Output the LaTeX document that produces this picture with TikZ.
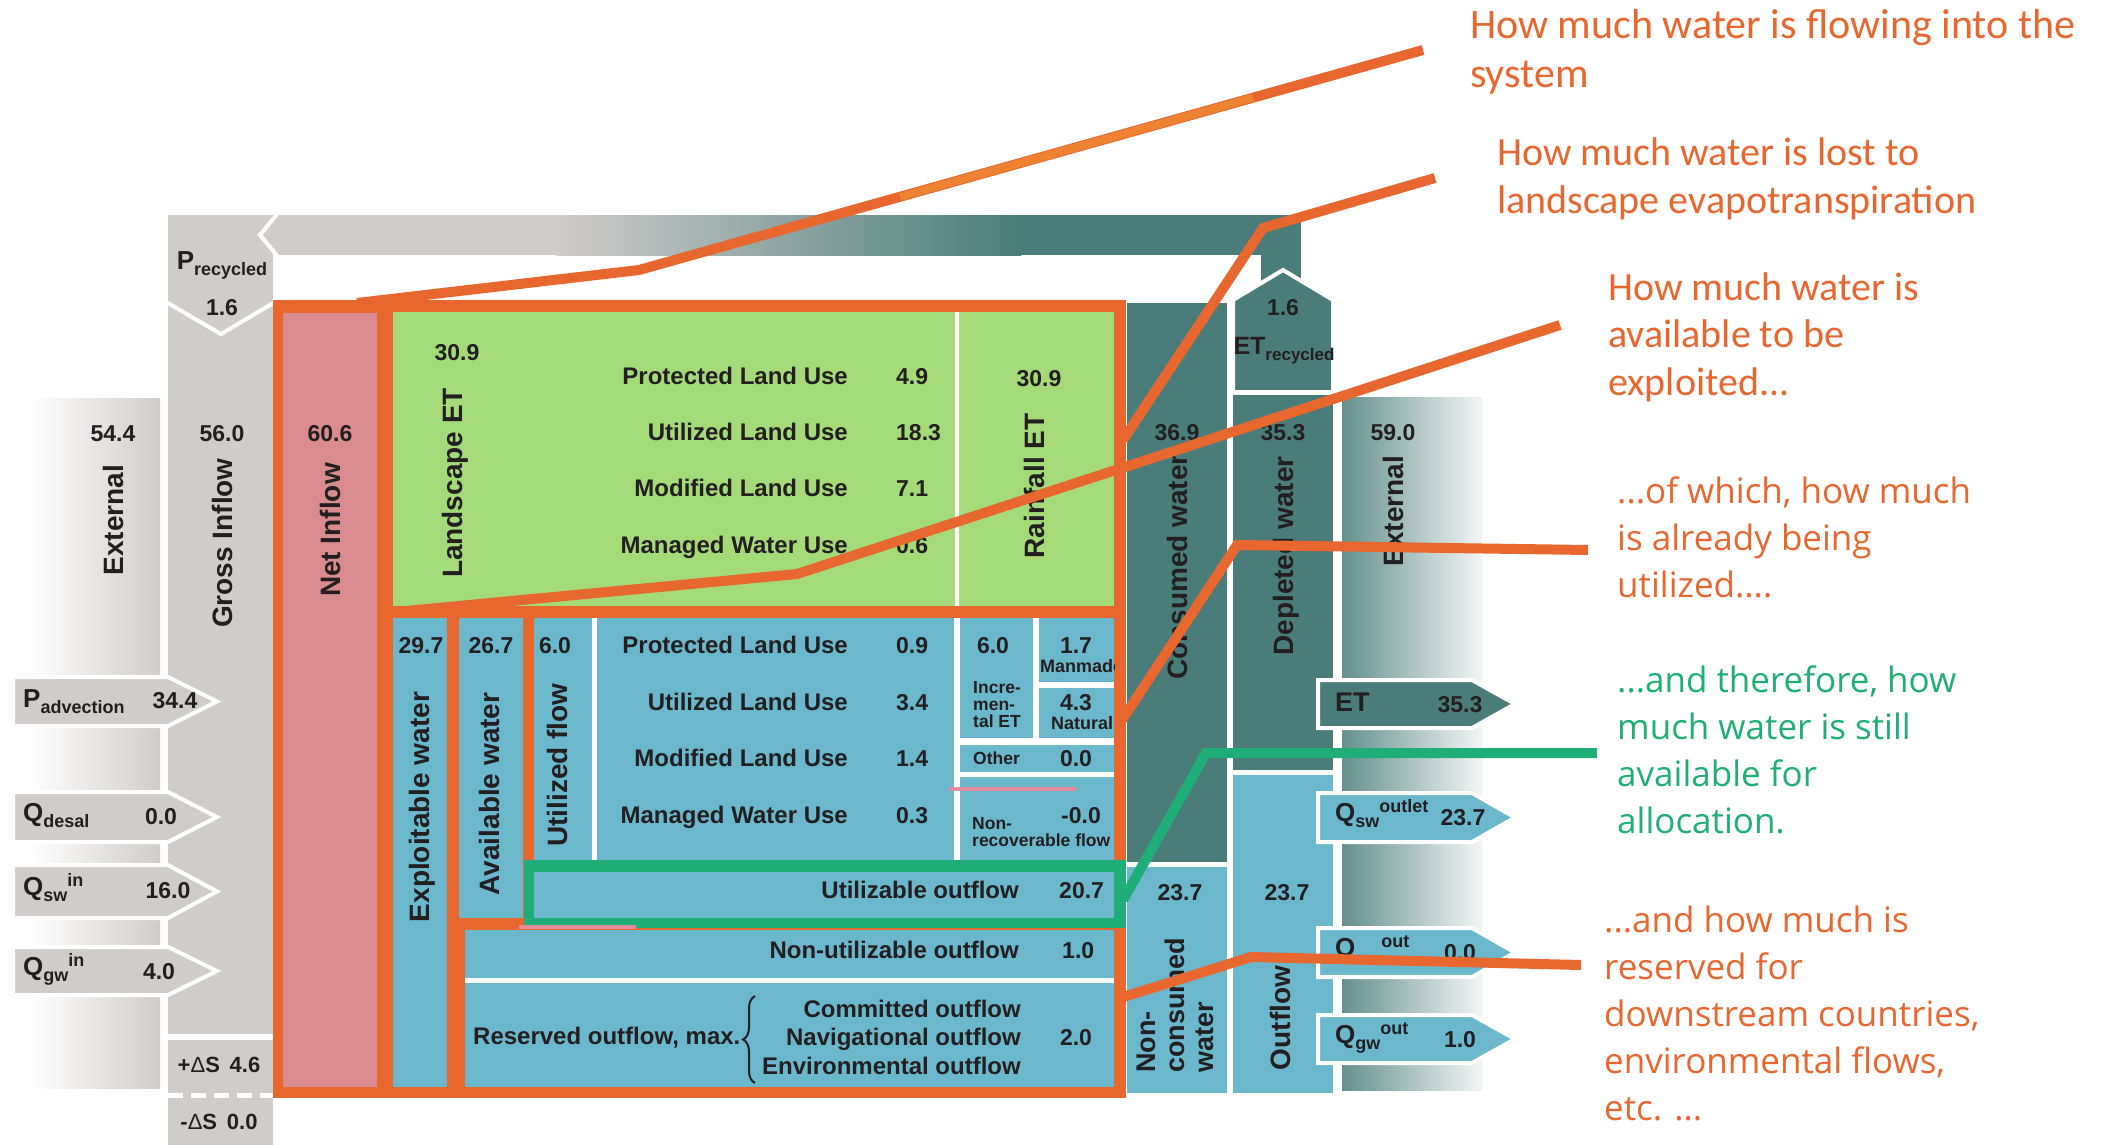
\documentclass[tikz,border=0pt]{standalone}
\usepackage{fontspec}
\setmainfont{Liberation Sans}
\newfontfamily\cfont{Carlito}
\newfontfamily\ofont{Open Sans}
\usetikzlibrary{decorations.pathreplacing}
\definecolor{gry}{HTML}{D0CCCB}
\definecolor{tl}{HTML}{4A7D79}
\definecolor{blu}{HTML}{6BB8CD}
\definecolor{grn}{HTML}{A4DB78}
\definecolor{pnk}{HTML}{D98B8E}
\definecolor{org}{HTML}{E8672F}
\definecolor{orgl}{HTML}{EC8232}
\definecolor{gline}{HTML}{20AE78}
\definecolor{ink}{HTML}{231F20}
\definecolor{pline}{HTML}{E38D9C}
\newcommand{\mydn}[2][18]{\raisebox{-6pt}{\fontsize{#1}{#1}\selectfont #2}}
\newcommand{\myup}[2][18]{\raisebox{9pt}{\fontsize{#1}{#1}\selectfont #2}}
\begin{document}
\begin{tikzpicture}[x=1pt,y=-1pt,
  lab/.style={font=\bfseries\fontsize{24}{26}\selectfont, text=ink, inner sep=0pt, text height=17pt, text depth=0pt},
  num/.style={font=\bfseries\fontsize{23}{25}\selectfont, text=ink, inner sep=0pt, text height=16.5pt, text depth=0pt},
  rlab/.style={font=\bfseries\fontsize{28}{30}\selectfont, text=ink, inner sep=0pt, rotate=90, text height=20pt, text depth=0pt},
  sml/.style={font=\bfseries\fontsize{17.5}{17}\selectfont, text=ink, inner sep=0pt, align=left},
  arr/.style={draw=white, line width=4pt, line join=miter},
  ann/.style={font=\cfont\fontsize{40}{47.5}\selectfont, text=org, align=left, inner sep=0pt, anchor=west},
  annb/.style={font=\ofont\fontsize{35}{47}\selectfont, text=org, align=left, inner sep=0pt, anchor=west},
  call/.style={draw=org, line width=10pt, line join=miter}
]
\useasboundingbox (0,0) rectangle (2101,1145);
\fill[white] (0,0) rectangle (2101,1145);

% ---------- left side ----------
\shade[left color=white, right color=gry] (30,398) rectangle (160,1088);
\fill[gry] (168,215) rectangle (273,1034);
\fill[gry] (168,1040) rectangle (273,1145);
\draw[white, line width=5pt, dash pattern=on 15pt off 8pt] (168,1095.5) -- (273,1095.5);

% top recycling bar
\fill[gry] (262,215) rectangle (557,255);
\shade[left color=gry, right color=tl] (556,215) rectangle (1021,255);
\fill[tl] (1020,215) rectangle (1301,255);
\fill[tl] (1261,254) rectangle (1301,290);
\draw[white, line width=4pt] (279,212) -- (260,235) -- (279,258);
\draw[white, line width=4pt] (166,302) -- (221,334) -- (275,302);

% ---------- main framed block ----------
\fill[org] (273,300) rectangle (1126,1098);
\fill[pnk] (283,313) rectangle (377,1087);
\fill[grn] (393,312) rectangle (1114,606);
\draw[white, line width=4pt] (957,312) -- (957,606);
\fill[blu] (393,618) rectangle (447,1087);
\fill[blu] (459,618) rectangle (523,918);
\fill[white] (534,618) rectangle (1114,860);
\fill[blu] (534,618) rectangle (592,860);
\fill[blu] (597,618) rectangle (954,860);
\fill[blu] (960,618) rectangle (1033,738);
\fill[blu] (1039,618) rectangle (1114,682);
\fill[blu] (1039,688) rectangle (1114,738);
\fill[blu] (960,745) rectangle (1114,772);
\fill[blu] (960,777) rectangle (1114,860);
\fill[gline] (524,860) rectangle (1126,928);
\fill[blu] (534,872) rectangle (1114,918);
\fill[blu] (465,930) rectangle (1114,978);
\fill[white] (465,978) rectangle (1114,983);
\fill[blu] (465,983) rectangle (1114,1087);
\draw[pline, line width=4pt] (949,789) -- (1076,789);
\draw[pline, line width=4pt] (519,927) -- (636,927);

% ---------- right side ----------
\fill[tl] (1127,303) rectangle (1227,862);
\fill[blu] (1127,867) rectangle (1227,1093);
\filldraw[fill=tl, draw=white, line width=4pt] (1233,392) -- (1233,300) -- (1283,270) -- (1333,300) -- (1333,392) -- cycle;
\fill[tl] (1233,395) rectangle (1333,770);
\fill[blu] (1233,775) rectangle (1333,1093);
\shade[left color=tl!85, right color=tl!7] (1342,397) rectangle (1482,1090);

% ---------- arrows ----------
\filldraw[fill=gry, arr] (13,677) -- (168,677) -- (217,701.5) -- (168,726) -- (13,726) -- cycle;
\filldraw[fill=gry, arr] (13,792) -- (168,792) -- (217,817) -- (168,842) -- (13,842) -- cycle;
\filldraw[fill=gry, arr] (13,865) -- (168,865) -- (217,891.5) -- (168,918) -- (13,918) -- cycle;
\filldraw[fill=gry, arr] (13,947) -- (168,947) -- (217,971) -- (168,995) -- (13,995) -- cycle;
\filldraw[fill=tl, arr] (1318,680) -- (1472,680) -- (1515,704) -- (1472,728) -- (1318,728) -- cycle;
\filldraw[fill=blu, arr] (1318,793) -- (1472,793) -- (1515,817.5) -- (1472,842) -- (1318,842) -- cycle;
\filldraw[fill=blu, arr] (1318,928) -- (1472,928) -- (1515,952.5) -- (1472,977) -- (1318,977) -- cycle;
\filldraw[fill=blu, arr] (1318,1015) -- (1472,1015) -- (1515,1039) -- (1472,1063) -- (1318,1063) -- cycle;

% ---------- left texts ----------
\node[num] (n544) at (113,433) {54.4};
\node[rlab] (extL) at (113,520) {External};
\node[lab] (precl) at (222,261) {\fontsize{26}{26}\selectfont P\mydn{recycled}};
\node[num] (prec16) at (222,307) {1.6};
\node[num] (n560) at (222,433) {56.0};
\node[rlab] (gross) at (222,543) {Gross Inflow};
\node[num] (n606) at (330,433) {60.6};
\node[rlab] (netin) at (330,530) {Net Inflow};
\node[lab, font=\bfseries\fontsize{22}{22}\selectfont] (dsp) at (219,1064) {+{\mdseries Δ}S\ \,4.6};
\node[lab, font=\bfseries\fontsize{22}{22}\selectfont] (dsm) at (219,1121) {-{\mdseries Δ}S\ \,0.0};
\node[lab, anchor=west] (padv) at (23,699) {\fontsize{26}{26}\selectfont P\mydn{advection}};
\node[num] (padvv) at (175,700) {34.4};
\node[lab, anchor=west] (qdes) at (23,813) {\fontsize{26}{26}\selectfont Q\mydn{desal}};
\node[num] (qdesv) at (161,816) {0.0};
\node[lab, anchor=west] (qswin) at (23,887) {\fontsize{26}{26}\selectfont Q\mydn{sw}\myup{in}};
\node[num] (qswinv) at (168,890) {16.0};
\node[lab, anchor=west] (qgwin) at (23,967) {\fontsize{26}{26}\selectfont Q\mydn{gw}\myup{in}};
\node[num] (qgwinv) at (159,971) {4.0};

% ---------- green block texts ----------
\node[num] (n309a) at (457,352) {30.9};
\node[rlab] (lset) at (452,483) {Landscape ET};
\node[lab, anchor=east] (gl1) at (848,376) {Protected Land Use};
\node[lab, anchor=east] (gl2) at (848,432) {Utilized Land Use};
\node[lab, anchor=east] (gl3) at (848,488) {Modified Land Use};
\node[lab, anchor=east] (gl4) at (848,545) {Managed Water Use};
\node[num, anchor=west] (gv1) at (896,376) {4.9};
\node[num, anchor=west] (gv2) at (896,432) {18.3};
\node[num, anchor=west] (gv3) at (896,488) {7.1};
\node[num, anchor=west] (gv4) at (896,545) {0.6};
\node[num] (n309b) at (1039,378) {30.9};
\node[rlab] (rainet) at (1034,486) {Rainfall ET};

% ---------- blue block texts ----------
\node[num] (n297) at (421,645) {29.7};
\node[rlab] (explw) at (419,807) {Exploitable water};
\node[num] (n267) at (491,645) {26.7};
\node[rlab] (availw) at (489,794) {Available water};
\node[num] (n60a) at (555,645) {6.0};
\node[rlab] (utilf) at (557,765) {Utilized flow};
\node[lab, anchor=east] (bl1) at (848,645) {Protected Land Use};
\node[lab, anchor=east] (bl2) at (848,702) {Utilized Land Use};
\node[lab, anchor=east] (bl3) at (848,758) {Modified Land Use};
\node[lab, anchor=east] (bl4) at (848,815) {Managed Water Use};
\node[num, anchor=west] (bv1) at (896,645) {0.9};
\node[num, anchor=west] (bv2) at (896,702) {3.4};
\node[num, anchor=west] (bv3) at (896,758) {1.4};
\node[num, anchor=west] (bv4) at (896,815) {0.3};
\node[num] (n60b) at (993,645) {6.0};
\node[sml, anchor=west] (incr) at (973,705) {Incre-\\men-\\tal ET};
\node[num] (n17) at (1076,645) {1.7};
\node[num] (n43) at (1076,702) {4.3};
\node[sml, anchor=west] (other) at (973,758) {Other};
\node[num] (n00a) at (1076,758) {0.0};
\node[num] (n00b) at (1081,815) {-0.0};
\begin{scope}
\clip (1039,618) rectangle (1114,738);
\node[sml, font=\bfseries\fontsize{18}{18}\selectfont, anchor=west] (manm) at (1040,666) {Manmade};
\node[sml, font=\bfseries\fontsize{18}{18}\selectfont, anchor=west] (natu) at (1051,723) {Natural};
\end{scope}
\begin{scope}
\clip (960,777) rectangle (1114,860);
\node[sml, anchor=west] (nonrec) at (972,832) {Non-\\recoverable flow};
\end{scope}
\node[lab, anchor=east] (utilo) at (1019,890) {Utilizable outflow};
\node[num, anchor=west] (n207) at (1059,890) {20.7};
\node[lab, anchor=east] (nonut) at (1019,950) {Non-utilizable outflow};
\node[num, anchor=west] (n10) at (1062,950) {1.0};
\node[lab, anchor=west] (resv) at (473,1036) {Reserved outflow, max.};
\draw[decorate, decoration={brace, amplitude=12pt}, line width=2pt, ink] (755,1083) -- (755,996);
\node[lab, anchor=east] (comm) at (1021,1009) {Committed outflow};
\node[lab, anchor=east] (navi) at (1021,1037) {Navigational outflow};
\node[lab, anchor=east] (envi) at (1021,1066) {Environmental outflow};
\node[num] (n20) at (1076,1037) {2.0};

% ---------- right texts ----------
\node[num] (n369) at (1177,432) {36.9};
\node[rlab] (consw) at (1177,567) {Consumed water};
\node[num] (n353) at (1283,432) {35.3};
\node[rlab] (deplw) at (1283,556) {Depleted water};
\node[num] (n590) at (1393,432) {59.0};
\node[rlab] (extR) at (1393,511) {External};
\node[num] (etrec16) at (1283,307) {1.6};
\node[lab] (etrecl) at (1284,346) {\fontsize{25}{25}\selectfont ET\mydn[17]{recycled}};
\node[num] (n237a) at (1180,892) {23.7};
\node[num] (n237b) at (1287,892) {23.7};
\node[font=\bfseries\fontsize{27}{29}\selectfont, text=ink, inner sep=0pt, rotate=90, align=left, anchor=west] (noncons) at (1175,1073) {Non-\\consumed\\water};
\node[rlab] (outfl) at (1280,1018) {Outflow};
\node[lab, anchor=west] (etl) at (1335,703) {\fontsize{27}{27}\selectfont ET};
\node[num] (etv) at (1460,704) {35.3};
\node[lab, anchor=west] (qswo) at (1335,813) {\fontsize{26}{26}\selectfont Q\mydn{sw}\myup{outlet}};
\node[num] (qswov) at (1463,817) {23.7};
\node[lab, anchor=west] (qo) at (1335,948) {\fontsize{26}{26}\selectfont Q\hspace{26pt}\myup{out}};
\node[num] (qov) at (1460,952) {0.0};
\node[lab, anchor=west] (qgwo) at (1335,1035) {\fontsize{26}{26}\selectfont Q\mydn{gw}\myup{out}};
\node[num] (qgwov) at (1460,1039) {1.0};

% ---------- callout lines ----------
\coordinate (a1s) at (357,303); \coordinate (a1b) at (639,270); \coordinate (a1e) at (1423,50);
\coordinate (a2s) at (1123,440); \coordinate (a2b) at (1263,228); \coordinate (a2e) at (1435,178);
\coordinate (a3s) at (395,612); \coordinate (a3b) at (797,574); \coordinate (a3e) at (1560,325);
\coordinate (a4s) at (1120,723); \coordinate (a4b) at (1237,545); \coordinate (a4e) at (1588,550);
\coordinate (a5s) at (1123,900); \coordinate (a5b) at (1206,753); \coordinate (a5e) at (1597,753);
\coordinate (a6s) at (1120,998); \coordinate (a6b) at (1251,957); \coordinate (a6e) at (1581,965);
\draw[call] (a1s) -- (a1b) -- (a1e);
\draw[orgl, line width=8pt] (900,196.8) -- (1253,97.7);
\draw[call] (a2s) -- (a2b) -- (a2e);
\draw[call] (a3s) -- (a3b) -- (a3e);
\draw[call] (a4s) -- (a4b) -- (a4e);
\draw[call, draw=gline] (a5s) -- (a5b) -- (a5e);
\draw[call] (a6s) -- (a6b) -- (a6e);

% ---------- callout texts ----------
\node[ann, font=\cfont\fontsize{42}{49}\selectfont] (t1) at (1470,52) {How much water is flowing into the\\system};
\node[ann] (t2) at (1497,179) {How much water is lost to\\landscape evapotranspiration};
\node[ann] (t3) at (1608,337) {How much water is\\available to be\\exploited...};
\node[annb] (t4) at (1617,537) {...of which, how much\\is already being\\utilized....};
\node[annb, text=gline] (t5) at (1617,750) {...and therefore, how\\much water is still\\available for\\allocation.};
\node[annb] (t6) at (1604,1013) {...and how much is\\reserved for\\downstream countries,\\environmental flows,\\etc. ...};
\end{tikzpicture}
\end{document}
